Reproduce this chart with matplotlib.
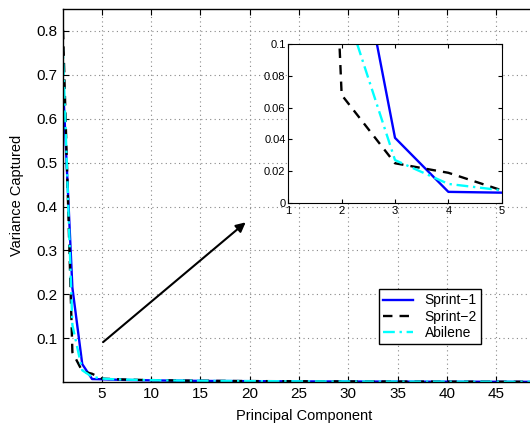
import matplotlib
matplotlib.use("Agg")
import matplotlib.pyplot as plt

# variance captured by each principal component
components = list(range(1, 51))

sprint1 = [0.700, 0.215, 0.041, 0.0070, 0.0065,
           0.0058, 0.0052, 0.0047, 0.0043, 0.0040,
           0.0037, 0.0034, 0.0032, 0.0030, 0.0028,
           0.0026, 0.0025, 0.0024, 0.0023, 0.0022,
           0.0021, 0.0020, 0.0019, 0.0018, 0.0017,
           0.0016, 0.0016, 0.0015, 0.0015, 0.0014,
           0.0014, 0.0013, 0.0013, 0.0012, 0.0012,
           0.0011, 0.0011, 0.0010, 0.0010, 0.0010,
           0.0009, 0.0009, 0.0009, 0.0008, 0.0008,
           0.0008, 0.0007, 0.0007, 0.0007, 0.0006]

sprint2 = [0.840, 0.068, 0.025, 0.019, 0.008,
           0.0070, 0.0062, 0.0055, 0.0050, 0.0046,
           0.0042, 0.0039, 0.0036, 0.0034, 0.0032,
           0.0030, 0.0028, 0.0027, 0.0025, 0.0024,
           0.0023, 0.0022, 0.0021, 0.0020, 0.0019,
           0.0018, 0.0018, 0.0017, 0.0016, 0.0016,
           0.0015, 0.0015, 0.0014, 0.0014, 0.0013,
           0.0013, 0.0012, 0.0012, 0.0011, 0.0011,
           0.0011, 0.0010, 0.0010, 0.0010, 0.0009,
           0.0009, 0.0009, 0.0008, 0.0008, 0.0008]

abilene = [0.780, 0.130, 0.027, 0.012, 0.008,
           0.0068, 0.0060, 0.0054, 0.0049, 0.0045,
           0.0041, 0.0038, 0.0035, 0.0033, 0.0031,
           0.0029, 0.0027, 0.0026, 0.0024, 0.0023,
           0.0022, 0.0021, 0.0020, 0.0019, 0.0018,
           0.0017, 0.0017, 0.0016, 0.0015, 0.0015,
           0.0014, 0.0014, 0.0013, 0.0013, 0.0012,
           0.0012, 0.0011, 0.0011, 0.0011, 0.0010,
           0.0010, 0.0010, 0.0009, 0.0009, 0.0009,
           0.0008, 0.0008, 0.0008, 0.0007, 0.0007]

labels = ["Sprint\u22121", "Sprint\u22122", "Abilene"]
x_ticks = [5, 10, 15, 20, 25, 30, 35, 40, 45]
y_ticks = [0.1, 0.2, 0.3, 0.4, 0.5, 0.6, 0.7, 0.8]
inset_x_ticks = [1, 2, 3, 4, 5]
inset_y_ticks = [0, 0.02, 0.04, 0.06, 0.08, 0.1]
inset_y_labels = ["0", "0.02", "0.04", "0.06", "0.08", "0.1"]

plt.rcParams['font.family'] = ['Liberation Sans', 'DejaVu Sans']


def draw_series(ax, lw=1.7):
    ax.plot(components, sprint1, color='#0000ff', linestyle='-', linewidth=lw, label=labels[0])
    ax.plot(components, sprint2, color='black', linestyle=(0, (4, 3)), linewidth=lw, label=labels[1])
    ax.plot(components, abilene, color='cyan', linestyle=(0, (5, 2, 1, 2)), linewidth=lw, label=labels[2])


fig = plt.figure(figsize=(5.3, 4.26), dpi=100)

# main axes runs past the right edge of the picture, as in the reference
ax = fig.add_axes([0.118, 0.103, 0.911, 0.876])
draw_series(ax)
ax.set_xlim(1, 50)
ax.set_ylim(0, 0.85)
ax.set_xticks(x_ticks)
ax.set_yticks(y_ticks)
ax.set_yticklabels([f"{v:g}" for v in y_ticks])
ax.tick_params(direction='in', top=True, right=True, labelsize=11, length=4)
ax.grid(True, linestyle=(0, (1, 3)), color='#888888', linewidth=0.8)
for s in ax.spines.values():
    s.set_linewidth(1.0)
ax.set_xlabel("Principal Component", fontsize=10.5, labelpad=6)
ax.set_ylabel("Variance Captured", fontsize=10.5, labelpad=9)

ax.annotate("", xy=(19.8, 0.368), xytext=(4.9, 0.087),
            arrowprops=dict(arrowstyle='-|>', color='black', lw=1.5, mutation_scale=14))

leg = ax.legend(loc='upper left', bbox_to_anchor=(0.7145, 0.3209),
                bbox_transform=fig.transFigure, fontsize=10, fancybox=False,
                framealpha=1, edgecolor='black', borderpad=0.3,
                labelspacing=0.15, handlelength=2.2, borderaxespad=0)
leg.get_frame().set_linewidth(1.0)

# zoomed inset
ins = fig.add_axes([0.544, 0.5235, 0.4026, 0.373])
draw_series(ins)
ins.set_xlim(1, 5)
ins.set_ylim(0, 0.1)
ins.set_xticks(inset_x_ticks)
ins.set_yticks(inset_y_ticks)
ins.set_yticklabels(inset_y_labels)
ins.tick_params(direction='in', top=True, right=True, labelsize=8, length=3, pad=2)

fig.savefig("out.png", dpi=100)
